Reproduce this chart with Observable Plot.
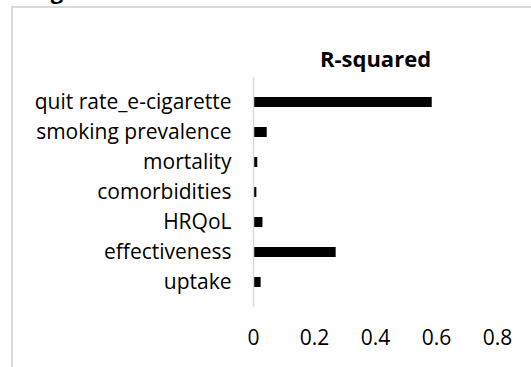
<!DOCTYPE html>
<html>
<head>
<meta charset="utf-8">
<script src="https://cdn.jsdelivr.net/npm/d3@7"></script>
<script src="https://cdn.jsdelivr.net/npm/@observablehq/plot@0.6"></script>
<style>
  html, body { margin: 0; padding: 0; background: #fff; }
  body { width: 531px; height: 367px; position: relative; overflow: hidden; font-family: "Open Sans", sans-serif; }
  #frame { position: absolute; left: 11px; top: 6px; width: 540px; height: 380px; border: 2px solid #d9d9d9; box-sizing: border-box; }
  #fig { position: absolute; left: 32px; top: -21px; font-weight: bold; font-size: 22px; line-height: 22px; color: #000; }
  #title { position: absolute; left: 254px; width: 243px; top: 47px; text-align: center; font-weight: bold; font-size: 22px; line-height: 22px; color: #000; }
  #chart { position: absolute; left: 0; top: 0; }
</style>
</head>
<body>
<div id="fig">Fig</div>
<div id="frame"></div>
<div id="chart"></div>
<div id="title"></div>
<script>
const categories = ["quit rate_e-cigarette", "smoking prevalence", "mortality", "comorbidities", "HRQoL", "effectiveness", "uptake"];
const rSquared = [0.586, 0.045, 0.014, 0.011, 0.031, 0.271, 0.025];
const xTicks = [0, 0.2, 0.4, 0.6, 0.8];
const chartTitle = "R-squared";

document.getElementById("title").textContent = chartTitle;

const data = categories.map((c, i) => ({category: c, value: rSquared[i]}));

const plot = Plot.plot({
  width: 531,
  height: 367,
  marginLeft: 253,
  marginRight: 34,
  marginTop: 77,
  marginBottom: 60,
  style: {fontFamily: "Open Sans, sans-serif", fontSize: "21px", color: "#000", background: "transparent"},
  x: {domain: [0, 0.8], ticks: xTicks, tickSize: 0, tickPadding: 23, label: null, tickFormat: d => String(d)},
  y: {domain: categories, padding: 0.66, tickSize: 0, tickPadding: 22, label: null},
  marks: [
    Plot.barX(data, {x: "value", y: "category", fill: "#000"}),
    Plot.ruleX([0], {stroke: "#d9d9d9", strokeWidth: 1.5})
  ]
});
document.getElementById("chart").appendChild(plot);
</script>
</body>
</html>
